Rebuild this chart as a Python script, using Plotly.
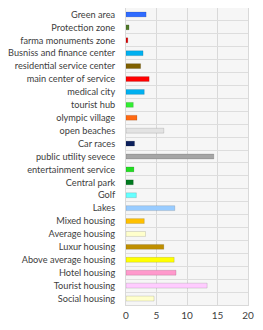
import plotly.graph_objects as go

categories = ["Green area", "Protection zone", "farma monuments zone", "Busniss and finance center",
              "residential service center", "main center of service", "medical city", "tourist hub",
              "olympic village", "open beaches", "Car races", "public utility sevece",
              "entertainment service", "Central park", "Golf", "Lakes", "Mixed housing",
              "Average housing", "Luxur housing", "Above average housing", "Hotel housing",
              "Tourist housing", "Social housing"]
values = [3.3, 0.5, 0.3, 2.8, 2.4, 3.8, 3.0, 1.2, 1.8, 6.2, 1.4, 14.4,
          1.3, 1.2, 1.7, 8.0, 3.0, 3.2, 6.2, 7.9, 8.2, 13.3, 4.6]
colors = ["#2f6bff", "#4f7a28", "#e00000", "#00b0f0", "#7f6000", "#ff0000", "#00b0f0", "#33ee33",
          "#ff6a13", "#e3e3e3", "#0b1f5c", "#a6a6a6", "#22dd22", "#007a1f", "#66ffff",
          "#99ccff", "#ffc000", "#ffffcc", "#bf8f00", "#ffff00", "#ff99cc", "#ffccff", "#ffffcc"]
x_ticks = [0, 5, 10, 15, 20]

fig = go.Figure(go.Bar(
    x=values, y=categories, orientation="h",
    marker=dict(color=colors, line=dict(color="rgba(0,0,0,0.12)", width=1)),
))
# page body adds an 8px margin on each side; figure sized so the page does not overflow
fig.update_layout(
    width=247, height=314,
    margin=dict(l=118, r=7, t=0, b=17),
    paper_bgcolor="white", plot_bgcolor="#f6f6f6",
    bargap=0.62, showlegend=False,
    font=dict(family="Lato", size=9.2, color="#404040"),
)
fig.update_xaxes(range=[0, 20], tickvals=x_ticks, showgrid=True, gridcolor="#d9d9d9", gridwidth=1,
                 zeroline=False, showline=True, linecolor="#d9d9d9", mirror=True, ticks="",
                 automargin=False, ticklabelstandoff=1, tickfont=dict(size=10))
fig.update_yaxes(autorange="reversed", tickson="boundaries", showgrid=True, gridcolor="#dddddd",
                 showline=True, linecolor="#d9d9d9", mirror=True, ticks="", ticklabelstandoff=8,
                 automargin=False, tickfont=dict(size=9.2))
fig.write_html("out.html")
